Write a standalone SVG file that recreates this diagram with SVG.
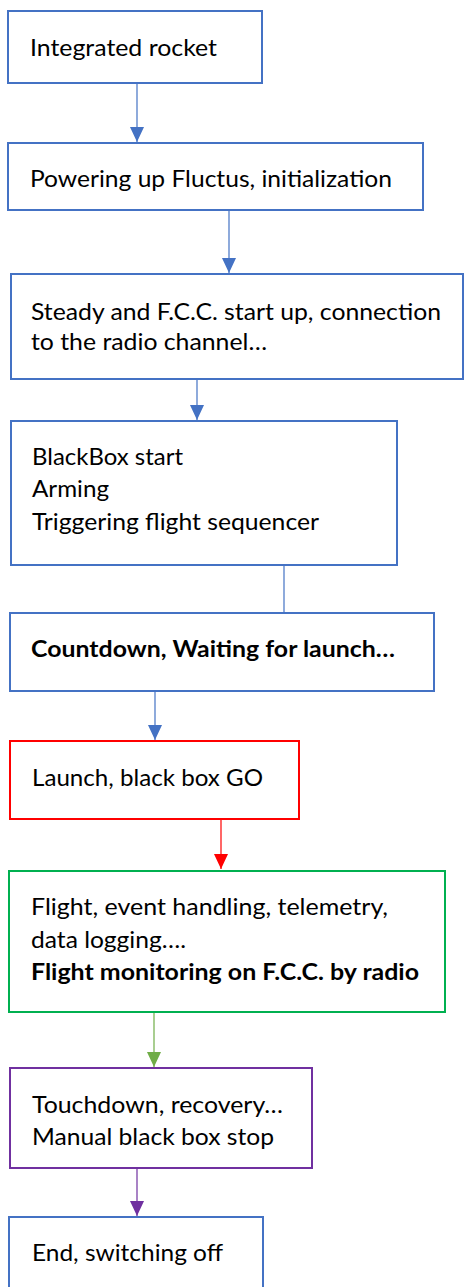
<svg xmlns="http://www.w3.org/2000/svg" width="464" height="1287" viewBox="0 0 464 1287">
<style>
  .box{fill:#fff;stroke-width:2}
  .blue{stroke:#4472C4}
  .red{stroke:#FF0000}
  .green{stroke:#00B050}
  .purple{stroke:#7030A0}
  .t{font-family:Lato,"Open Sans","Liberation Sans",sans-serif;font-size:23px;fill:#000}
  .b{font-weight:bold}
  .c{fill:none;stroke-width:1.2}
</style>
<defs>
  <marker id="ab" markerUnits="userSpaceOnUse" markerWidth="16" markerHeight="16" viewBox="0 0 16 16" refX="15" refY="8" orient="auto"><path d="M0,1 L15,8 L0,15 Z" fill="#4472C4"/></marker>
  <marker id="ar" markerUnits="userSpaceOnUse" markerWidth="16" markerHeight="16" viewBox="0 0 16 16" refX="15" refY="8" orient="auto"><path d="M0,1 L15,8 L0,15 Z" fill="#FF0000"/></marker>
  <marker id="ag" markerUnits="userSpaceOnUse" markerWidth="16" markerHeight="16" viewBox="0 0 16 16" refX="15" refY="8" orient="auto"><path d="M0,1 L15,8 L0,15 Z" fill="#70AD47"/></marker>
  <marker id="ap" markerUnits="userSpaceOnUse" markerWidth="16" markerHeight="16" viewBox="0 0 16 16" refX="15" refY="8" orient="auto"><path d="M0,1 L15,8 L0,15 Z" fill="#7030A0"/></marker>
</defs>
<g id="connectors">
  <line class="c" x1="137" y1="83" x2="137" y2="142" stroke="#4472C4" marker-end="url(#ab)"/>
  <line class="c" x1="229" y1="210" x2="229" y2="273" stroke="#4472C4" marker-end="url(#ab)"/>
  <line class="c" x1="197" y1="379" x2="197" y2="420" stroke="#4472C4" marker-end="url(#ab)"/>
  <line class="c" x1="284" y1="565" x2="284" y2="613" stroke="#4472C4"/>
  <line class="c" x1="155" y1="691" x2="155" y2="740" stroke="#4472C4" marker-end="url(#ab)"/>
  <line class="c" x1="221" y1="819" x2="221" y2="869" stroke="#FF0000" marker-end="url(#ar)"/>
  <line class="c" x1="154" y1="1012" x2="154" y2="1067" stroke="#70AD47" marker-end="url(#ag)"/>
  <line class="c" x1="137" y1="1168" x2="137" y2="1216" stroke="#7030A0" marker-end="url(#ap)"/>
</g>
<g id="n1">
  <rect class="box blue" x="8" y="11" width="254" height="72"/>
  <text class="t" x="30" y="56" textLength="187" lengthAdjust="spacingAndGlyphs">Integrated rocket</text>
</g>
<g id="n2">
  <rect class="box blue" x="8" y="143" width="415" height="67"/>
  <text class="t" x="30" y="187" textLength="362" lengthAdjust="spacingAndGlyphs">Powering up Fluctus, initialization</text>
</g>
<g id="n3">
  <rect class="box blue" x="11" y="274" width="452" height="105"/>
  <text class="t" x="31" y="320" textLength="410" lengthAdjust="spacingAndGlyphs">Steady and F.C.C. start up, connection</text>
  <text class="t" x="31" y="350" textLength="236" lengthAdjust="spacingAndGlyphs">to the radio channel…</text>
</g>
<g id="n4">
  <rect class="box blue" x="11" y="421" width="386" height="144"/>
  <text class="t" x="32" y="465" textLength="151" lengthAdjust="spacingAndGlyphs">BlackBox start</text>
  <text class="t" x="32" y="497" textLength="77" lengthAdjust="spacingAndGlyphs">Arming</text>
  <text class="t" x="32" y="530" textLength="287" lengthAdjust="spacingAndGlyphs">Triggering flight sequencer</text>
</g>
<g id="n5">
  <rect class="box blue" x="10" y="613" width="424" height="78"/>
  <text class="t b" x="31" y="657" textLength="364" lengthAdjust="spacingAndGlyphs">Countdown, Waiting for launch…</text>
</g>
<g id="n6">
  <rect class="box red" x="10" y="741" width="289" height="78"/>
  <text class="t" x="32" y="786" textLength="231" lengthAdjust="spacingAndGlyphs">Launch, black box GO</text>
</g>
<g id="n7">
  <rect class="box green" x="9" y="871" width="436" height="141"/>
  <text class="t" x="31" y="915" textLength="357" lengthAdjust="spacingAndGlyphs">Flight, event handling, telemetry,</text>
  <text class="t" x="31" y="948" textLength="155" lengthAdjust="spacingAndGlyphs">data logging….</text>
  <text class="t b" x="31" y="980" textLength="388" lengthAdjust="spacingAndGlyphs">Flight monitoring on F.C.C. by radio</text>
</g>
<g id="n8">
  <rect class="box purple" x="10" y="1068" width="302" height="100"/>
  <text class="t" x="32" y="1113" textLength="251" lengthAdjust="spacingAndGlyphs">Touchdown, recovery…</text>
  <text class="t" x="32" y="1145" textLength="242" lengthAdjust="spacingAndGlyphs">Manual black box stop</text>
</g>
<g id="n9">
  <rect class="box blue" x="9" y="1217" width="254" height="90"/>
  <text class="t" x="32" y="1261" textLength="191" lengthAdjust="spacingAndGlyphs">End, switching off</text>
</g>
</svg>
